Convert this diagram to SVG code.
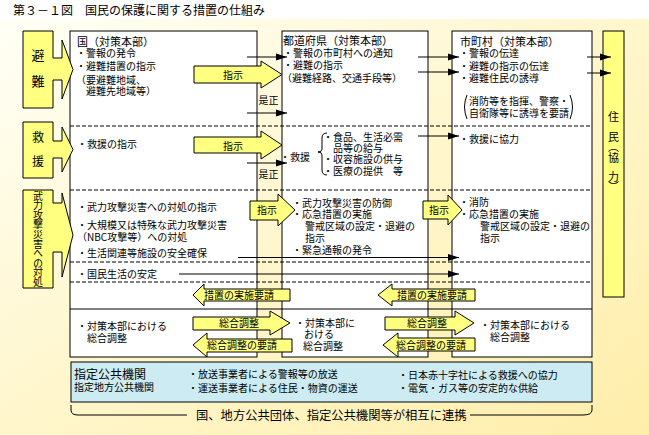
<svg xmlns="http://www.w3.org/2000/svg" width="649" height="435" viewBox="0 0 649 435">
<defs>
<linearGradient id="bg" x1="0" y1="0" x2="1" y2="1">
<stop offset="0" stop-color="#FFFFF6"/>
<stop offset="0.5" stop-color="#FFF6CC"/>
<stop offset="1" stop-color="#FFEEAA"/>
</linearGradient>
<marker id="ah" markerWidth="12" markerHeight="8" refX="11" refY="4" orient="auto" markerUnits="userSpaceOnUse">
<path d="M0,0.5 L11,4 L0,7.5 Z" fill="#000"/>
</marker>
<style>
text{font-family:"Noto Sans CJK JP","Noto Sans CJK SC",sans-serif;font-size:10px;fill:#000}
.h{font-size:11px}
.m{text-anchor:middle}
.v{writing-mode:vertical-rl}
.y{fill:#FFFF80;stroke:#000;stroke-width:1}
.col{fill:#fff;stroke:#000;stroke-width:1}
.d{stroke:#000;stroke-width:1;stroke-dasharray:4,2;fill:none}
.s{stroke:#000;stroke-width:1;fill:none}
.c{stroke:#000;stroke-width:1;fill:none;marker-end:url(#ah)}
</style>
</defs>
<rect x="0" y="0" width="649" height="435" fill="#fff"/>
<rect x="0" y="19" width="649" height="416" fill="url(#bg)"/>
<text x="13" y="14.5" style="font-size:12px">第３－１図　国民の保護に関する措置の仕組み</text>

<g id="columns">
<rect class="col" x="70" y="31" width="187" height="326"/>
<rect class="col" x="282" y="31" width="146" height="326"/>
<rect class="col" x="452" y="31" width="140" height="326"/>
</g>
<g id="separators">
<line class="d" x1="70" y1="126" x2="592" y2="126"/>
<line class="d" x1="70" y1="190" x2="592" y2="190"/>
<line class="d" x1="70" y1="262" x2="592" y2="262"/>
<line class="d" x1="70" y1="282" x2="592" y2="282"/>
<line class="s" x1="70" y1="309" x2="592" y2="309"/>
</g>

<g id="label-hinan">
<polygon class="y" points="23,31 53,31 53,58 62,58 62,40 73,69.5 62,99 62,80 53,80 53,108 23,108"/>
<text class="m" x="38" y="60" style="font-size:13px">避</text>
<text class="m" x="38" y="86" style="font-size:13px">難</text>
</g>
<g id="label-kyuen">
<polygon class="y" points="23,122 53,122 53,141 62,141 62,127 73,149.5 62,172 62,158 53,158 53,178 23,178"/>
<text class="m" x="38" y="141.5" style="font-size:12px">救</text>
<text class="m" x="38" y="165.5" style="font-size:12px">援</text>
</g>
<g id="label-buryoku">
<polygon class="y" points="23,190 53,190 53,203 62,203 62,193 73,235 62,277 62,252 53,252 53,288 23,288"/>
<text class="v" x="38" y="191 200.6 210.1 219.7 229.2 238.8 248.3 257.9 267.4 277">武力攻撃災害への対処</text>
</g>

<g id="kuni">
<text><tspan class="h" x="77" y="46">国（対策本部）</tspan><tspan x="76" y="57">・警報の発令</tspan><tspan x="76" y="70">・避難措置の指示</tspan><tspan x="76" y="84">（要避難地域、</tspan><tspan x="86" y="95">避難先地域等）</tspan></text>
<text x="77" y="148">・救援の指示</text>
<text><tspan x="77" y="211">・武力攻撃災害への対処の指示</tspan><tspan x="77" y="229">・大規模又は特殊な武力攻撃災害</tspan><tspan x="77" y="241">（NBC攻撃等）への対処</tspan></text>
<text x="77" y="257">・生活関連等施設の安全確保</text>
<text x="77" y="278">・国民生活の安定</text>
<text><tspan x="77" y="330">・対策本部における</tspan><tspan x="87" y="342">総合調整</tspan></text>
</g>

<g id="todofuken">
<text><tspan class="h" x="283" y="45">都道府県（対策本部）</tspan><tspan x="283" y="57">・警報の市町村への通知</tspan><tspan x="283" y="69">・避難の指示</tspan><tspan x="282" y="82">（避難経路、交通手段等）</tspan></text>
<text x="280" y="161">・救援</text>
<path class="s" d="M327,133 Q322,133 322,138 L322,149 Q322,152 318,152 Q322,152 322,155 L322,170 Q322,175 327,175"/>
<text><tspan x="323" y="141">・食品、生活必需</tspan><tspan x="333" y="152">品等の給与</tspan><tspan x="323" y="163">・収容施設の供与</tspan><tspan x="323" y="175">・医療の提供　等</tspan></text>
<text><tspan x="292" y="207">・武力攻撃災害の防御</tspan><tspan x="292" y="218">・応急措置の実施</tspan><tspan x="305" y="230">警戒区域の設定・退避の</tspan><tspan x="305" y="242">指示</tspan><tspan x="292" y="254">・緊急通報の発令</tspan></text>
<text><tspan x="295" y="327">・対策本部に</tspan><tspan x="304" y="338">おける</tspan><tspan x="303" y="350">総合調整</tspan></text>
</g>

<g id="shichoson">
<text><tspan class="h" x="460" y="46">市町村（対策本部）</tspan><tspan x="459" y="57">・警報の伝達</tspan><tspan x="459" y="70">・避難の指示の伝達</tspan><tspan x="459" y="82">・避難住民の誘導</tspan></text>
<path class="s" d="M467,95 Q462,107 467,119"/>
<path class="s" d="M570,95 Q575,107 570,119"/>
<text><tspan x="469" y="105">消防等を指揮、警察・</tspan><tspan x="469" y="117">自衛隊等に誘導を要請</tspan></text>
<text x="459" y="143">・救援に協力</text>
<text><tspan x="459" y="206">・消防</tspan><tspan x="459" y="218">・応急措置の実施</tspan><tspan x="480" y="230">警戒区域の設定・退避の</tspan><tspan x="480" y="242">指示</tspan></text>
<text><tspan x="480" y="329">・対策本部における</tspan><tspan x="490" y="341">総合調整</tspan></text>
</g>

<g id="jumin">
<rect class="y" x="603" y="31" width="21" height="266"/>
<text class="v h" x="613.5" y="111.5 131.5 141 152.5 171.5 181">住民（協力）</text>
</g>

<g id="connectors">
<line class="c" x1="247" y1="57" x2="287" y2="57"/>
<line class="c" x1="247" y1="113" x2="287" y2="113"/>
<line class="c" x1="247" y1="163" x2="287" y2="163"/>
<line class="c" x1="418" y1="57" x2="459" y2="57"/>
<line class="c" x1="418" y1="72" x2="459" y2="72"/>
<line class="c" x1="418" y1="136" x2="459" y2="136"/>
<line class="c" x1="587" y1="57" x2="611" y2="57"/>
<line class="c" x1="587" y1="73" x2="611" y2="73"/>
<line class="c" x1="238" y1="257.5" x2="459" y2="257.5"/>
<line class="c" x1="179" y1="274" x2="459" y2="274"/>
<text class="m" x="268.5" y="104">是正</text>
<text class="m" x="268.5" y="178">是正</text>
</g>

<g id="arrows">
<polygon class="y" points="194,66 261,66 261,61 282,74.5 261,88 261,83 194,83"/>
<text class="m" x="233" y="79">指示</text>
<polygon class="y" points="194,137 261,137 261,131 282,145 261,159 261,153 194,153"/>
<text class="m" x="233" y="150">指示</text>
<polygon class="y" points="250,201 278,201 278,194 295,210 278,226 278,220 250,220"/>
<text class="m" x="267" y="214">指示</text>
<polygon class="y" points="423,201 448,201 448,195 462,210 448,225 448,219 423,219"/>
<text class="m" x="439" y="214">指示</text>
<polygon class="y" points="193,295 204,284 204,289 290,289 290,301 204,301 204,306"/>
<text class="m" x="239" y="299">措置の実施要請</text>
<polygon class="y" points="378,295 392,284 392,289 475,289 475,301 392,301 392,306"/>
<text class="m" x="432" y="299">措置の実施要請</text>
<polygon class="y" points="193,317 270,317 270,311 290,323 270,335 270,330 193,330"/>
<text class="m" x="239" y="327">総合調整</text>
<polygon class="y" points="385,317 455,317 455,311 474,323 455,335 455,330 385,330"/>
<text class="m" x="427" y="327">総合調整</text>
<polygon class="y" points="193,345 207,333 207,339 292,339 292,352 207,352 207,357"/>
<text class="m" x="242" y="349">総合調整の要請</text>
<polygon class="y" points="383,345 398,333 398,338 475,338 475,351 398,351 398,357"/>
<text class="m" x="431" y="348.5">総合調整の要請</text>
</g>

<g id="shitei">
<rect x="71" y="362" width="521" height="40" fill="#CCEBF2" stroke="#000" stroke-width="1"/>
<text><tspan x="74" y="378.5" style="font-size:12px">指定公共機関</tspan><tspan x="74" y="391">指定地方公共機関</tspan></text>
<text><tspan x="188" y="378">・放送事業者による警報等の放送</tspan><tspan x="188" y="392">・運送事業者による住民・物資の運送</tspan></text>
<text><tspan x="398" y="379">・日本赤十字社による救援への協力</tspan><tspan x="398" y="392">・電気・ガス等の安定的な供給</tspan></text>
</g>

<g id="renkei">
<path class="s" d="M71,405 L71,410 Q71,415 78,415 L187,415"/>
<path class="s" d="M470,415 L583,415 Q592,415 592,410 L592,405"/>
<text x="196" y="419.5" style="font-size:12.3px">国、地方公共団体、指定公共機関等が相互に連携</text>
</g>
</svg>
